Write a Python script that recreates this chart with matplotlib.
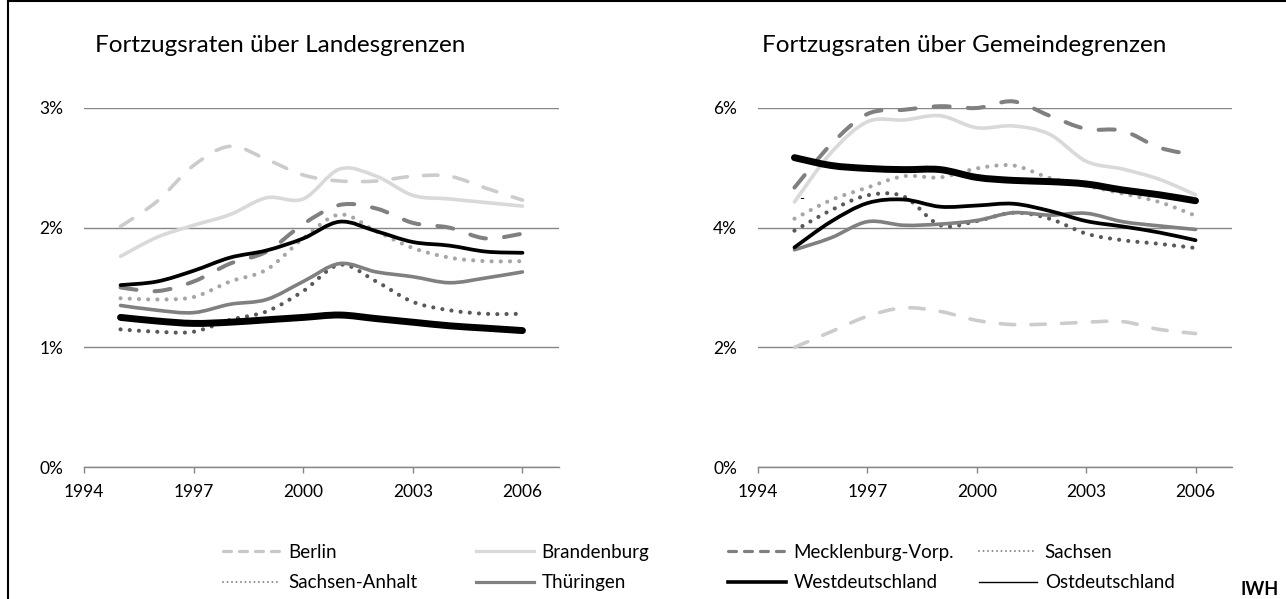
import numpy as np
import matplotlib
matplotlib.use("Agg")
import matplotlib.pyplot as plt
from matplotlib.path import Path
from matplotlib.patches import PathPatch
from matplotlib.lines import Line2D

plt.rcParams['font.family'] = ['Lato', 'DejaVu Sans']

# data (percent), 1995 - 2006
years = np.arange(1995, 2007)
regions = ['Berlin', 'Brandenburg', 'Mecklenburg-Vorp.', 'Sachsen',
           'Sachsen-Anhalt', 'Thüringen', 'Westdeutschland', 'Ostdeutschland']

# Fortzugsraten über Landesgrenzen
land_berlin = [2.01, 2.22, 2.52, 2.68, 2.57, 2.44, 2.39, 2.39, 2.43, 2.43, 2.33, 2.23]
land_brandenburg = [1.76, 1.92, 2.02, 2.11, 2.25, 2.24, 2.49, 2.43, 2.27, 2.24, 2.21, 2.18]
land_meckpom = [1.50, 1.47, 1.55, 1.70, 1.80, 2.03, 2.19, 2.16, 2.04, 2.00, 1.91, 1.95]
land_sachsen = [1.15, 1.13, 1.13, 1.23, 1.30, 1.47, 1.69, 1.55, 1.38, 1.31, 1.28, 1.28]
land_sachsen_anhalt = [1.41, 1.40, 1.42, 1.55, 1.65, 1.91, 2.11, 1.97, 1.83, 1.75, 1.72, 1.72]
land_thueringen = [1.35, 1.31, 1.29, 1.36, 1.40, 1.55, 1.70, 1.63, 1.59, 1.54, 1.58, 1.63]
land_west = [1.25, 1.22, 1.20, 1.21, 1.23, 1.25, 1.27, 1.24, 1.21, 1.18, 1.16, 1.14]
land_ost = [1.52, 1.55, 1.64, 1.75, 1.81, 1.91, 2.05, 1.97, 1.88, 1.85, 1.80, 1.79]

# Fortzugsraten über Gemeindegrenzen
gem_berlin = [2.00, 2.26, 2.52, 2.66, 2.60, 2.45, 2.38, 2.39, 2.42, 2.43, 2.30, 2.23]
gem_brandenburg = [4.43, 5.25, 5.77, 5.80, 5.87, 5.67, 5.70, 5.56, 5.11, 4.98, 4.81, 4.55]
gem_meckpom = [4.67, 5.39, 5.90, 5.97, 6.03, 6.00, 6.11, 5.87, 5.65, 5.62, 5.34, 5.21]
gem_sachsen = [3.95, 4.29, 4.54, 4.52, 4.04, 4.11, 4.25, 4.15, 3.90, 3.79, 3.73, 3.66]
gem_sachsen_anhalt = [4.15, 4.46, 4.67, 4.86, 4.84, 4.99, 5.04, 4.83, 4.70, 4.57, 4.43, 4.20]
gem_thueringen = [3.63, 3.83, 4.10, 4.04, 4.06, 4.12, 4.25, 4.21, 4.24, 4.10, 4.03, 3.97]
gem_west = [5.17, 5.04, 4.99, 4.97, 4.97, 4.84, 4.79, 4.77, 4.73, 4.63, 4.55, 4.45]
gem_ost = [3.67, 4.10, 4.41, 4.47, 4.35, 4.37, 4.40, 4.28, 4.11, 4.02, 3.92, 3.79]

land_series = [land_berlin, land_brandenburg, land_meckpom, land_sachsen,
               land_sachsen_anhalt, land_thueringen, land_west, land_ost]
gem_series = [gem_berlin, gem_brandenburg, gem_meckpom, gem_sachsen,
              gem_sachsen_anhalt, gem_thueringen, gem_west, gem_ost]

xticks = [1994, 1997, 2000, 2003, 2006]

# line styles (color, width, dash) for chart and legend
styles = [
    ('#cccccc', 2.6, (0, (4.0, 4.5))),
    ('#d9d9d9', 2.6, 'solid'),
    ('#808080', 2.9, (0, (4.0, 4.5))),
    ('#595959', 3.0, (0, (0.01, 2.2))),
    ('#a6a6a6', 3.0, (0, (0.01, 2.2))),
    ('#808080', 2.6, 'solid'),
    ('#000000', 5.0, 'solid'),
    ('#000000', 2.7, 'solid'),
]
legend_styles = [
    ('#c8c8c8', 2.3, (0, (2.5, 2.5))),
    ('#d9d9d9', 2.3, 'solid'),
    ('#808080', 2.3, (0, (2.5, 2.5))),
    ('#808080', 1.4, (0, (0.01, 2.3))),
    ('#808080', 1.4, (0, (0.01, 2.3))),
    ('#808080', 2.3, 'solid'),
    ('#000000', 2.6, 'solid'),
    ('#000000', 1.0, 'solid'),
]


def smooth_path(x, y):
    # excel-like smoothed line as cubic bezier segments
    pts = np.column_stack([x, y]).astype(float)
    n = len(pts)
    verts = [pts[0]]
    codes = [Path.MOVETO]
    for i in range(n - 1):
        p0 = pts[max(i - 1, 0)]
        p1 = pts[i]
        p2 = pts[i + 1]
        p3 = pts[min(i + 2, n - 1)]
        c1 = p1 + (p2 - p0) / 6.0
        c2 = p2 - (p3 - p1) / 6.0
        verts += [c1, c2, p2]
        codes += [Path.CURVE4] * 3
    return Path(verts, codes)


W, H = 1286, 599
fig = plt.figure(figsize=(W / 100, H / 100), dpi=100)

grid_col = '#868686'


def make_panel(rect, series, ymax, ystep, title, title_x):
    ax = fig.add_axes(rect)
    for vals, (c, lw, ls) in zip(series, styles):
        patch = PathPatch(smooth_path(years, vals), fill=False, edgecolor=c,
                          lw=lw, linestyle=ls, capstyle='round',
                          joinstyle='round', clip_on=False)
        ax.add_patch(patch)
    ax.set_xlim(1994, 2007)
    ax.set_ylim(0, ymax)
    ax.set_yticks(np.arange(0, ymax + 0.01, ystep))
    ax.set_yticklabels(['{:.0f}%'.format(v) for v in np.arange(0, ymax + 0.01, ystep)])
    ax.set_xticks(xticks)
    ax.set_xticklabels([str(t) for t in xticks])
    for s in ['left', 'right', 'top']:
        ax.spines[s].set_visible(False)
    ax.spines['bottom'].set_color(grid_col)
    ax.spines['bottom'].set_linewidth(1.0)
    ax.yaxis.grid(True, color=grid_col, lw=1.0)
    ax.set_axisbelow(True)
    ax.tick_params(axis='y', length=0, pad=15, labelsize=12.5)
    ax.tick_params(axis='x', length=4, width=1.0, color=grid_col,
                   direction='out', pad=8, labelsize=12.5)
    fig.text(title_x / W, 1 - 45 / H, title, fontsize=17.5, ha='left', va='center')
    return ax


ax1 = make_panel([84 / W, 1 - 467 / H, 475 / W, 359 / H], land_series, 3, 1,
                 'Fortzugsraten über Landesgrenzen', 95)
ax2 = make_panel([758 / W, 1 - 467 / H, 474 / W, 359 / H], gem_series, 6, 2,
                 'Fortzugsraten über Gemeindegrenzen', 762)
ax2.text(1995.2, 4.48, '-', fontsize=10, ha='center', va='center')

# legend, four columns like the excel layout
handles = [Line2D([], [], color=c, lw=lw, linestyle=ls, dash_capstyle='round')
           for c, lw, ls in legend_styles]
col_x = [223, 476, 728, 979]
for k in range(4):
    idx = [k, k + 4]
    fig.legend([handles[i] for i in idx], [regions[i] for i in idx],
               loc='upper left', bbox_to_anchor=(col_x[k] / W, 1 - 544 / H),
               frameon=False, fontsize=13.5, handlelength=3.1,
               handletextpad=0.4, labelspacing=0.7, borderpad=0,
               borderaxespad=0)

fig.text(1241 / W, 1 - 595 / H, 'IWH', fontsize=13, fontweight='bold',
         ha='left', va='baseline')

# frame lines on left and top
fig.add_artist(Line2D([8 / W, 8 / W], [0, 1], color='black', lw=1.5,
                      transform=fig.transFigure))
fig.add_artist(Line2D([8 / W, 1], [1 - 1 / H, 1 - 1 / H], color='black', lw=1.5,
                      transform=fig.transFigure))

fig.savefig('out.png', dpi=100)
